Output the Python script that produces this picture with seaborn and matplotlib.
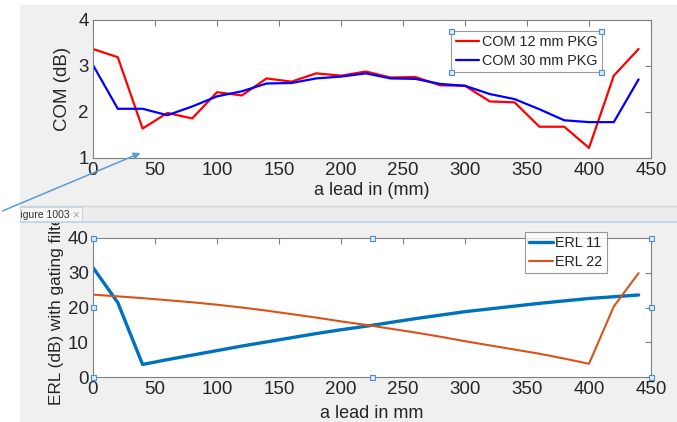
import numpy as np
import pandas as pd
import matplotlib
matplotlib.use("Agg")
import matplotlib.pyplot as plt
import seaborn as sns
from matplotlib.patches import Rectangle
from matplotlib.transforms import Bbox

# ================= DATA =================
lead_mm = [0, 20, 40, 60, 80, 100, 120, 140, 160, 180, 200, 220,
           240, 260, 280, 300, 320, 340, 360, 380, 400, 420, 440]

com_12 = [3.37, 3.19, 1.64, 1.98, 1.86, 2.43, 2.36, 2.73, 2.66, 2.84, 2.79, 2.88,
          2.75, 2.76, 2.58, 2.57, 2.23, 2.21, 1.68, 1.68, 1.22, 2.79, 3.37]
com_30 = [3.02, 2.07, 2.07, 1.93, 2.12, 2.34, 2.45, 2.62, 2.63, 2.73, 2.77, 2.84,
          2.73, 2.72, 2.61, 2.57, 2.39, 2.28, 2.06, 1.82, 1.78, 1.78, 2.71]

erl_11 = [31.5, 21.4, 3.6, 5.0, 6.3, 7.6, 8.9, 10.1, 11.3, 12.5, 13.6, 14.6,
          15.7, 16.8, 17.8, 18.8, 19.6, 20.4, 21.2, 21.9, 22.6, 23.1, 23.6]
erl_22 = [23.7, 23.2, 22.7, 22.1, 21.5, 20.8, 20.0, 19.1, 18.1, 17.1, 16.0, 15.0,
          13.9, 12.8, 11.6, 10.3, 9.1, 7.9, 6.7, 5.3, 3.8, 20.3, 29.9]

com_df = pd.DataFrame({"lead": lead_mm * 2,
                       "COM": com_12 + com_30,
                       "series": ["COM 12 mm PKG"] * len(lead_mm) + ["COM 30 mm PKG"] * len(lead_mm)})
erl_df = pd.DataFrame({"lead": lead_mm * 2,
                       "ERL": erl_11 + erl_22,
                       "series": ["ERL 11"] * len(lead_mm) + ["ERL 22"] * len(lead_mm)})

# ================= STYLE =================
sns.set_style("white")
plt.rcParams['font.family'] = ['Liberation Sans', 'DejaVu Sans']
BG = "#f0f0f0"
AX_COL = "#808080"
TXT = "#262626"

W, H = 677, 422
fig = plt.figure(figsize=(W / 100, H / 100), dpi=100, facecolor="white")

# window background
fig.patches.append(Rectangle((20 / W, 0), 1, (H - 5) / H, transform=fig.transFigure,
                             facecolor=BG, edgecolor="none", zorder=-10))


def px_axes(l, t, r, b):
    return fig.add_axes([l / W, (H - b) / H, (r - l) / W, (b - t) / H])


def style_axes(ax):
    ax.set_facecolor("white")
    for s in ax.spines.values():
        s.set_color(AX_COL)
        s.set_linewidth(0.8)
    ax.tick_params(direction="in", length=4, width=0.8, color=AX_COL,
                   top=True, right=True, labelsize=13.5, labelcolor=TXT, pad=3)
    ax.set_xlim(0, 450)
    ax.set_xticks(range(0, 451, 50))


def style_legend(leg, widths=None):
    leg.get_frame().set_linewidth(0.8)
    leg.get_frame().set_edgecolor(AX_COL)
    for t in leg.get_texts():
        t.set_color(TXT)
    if widths:
        for ln, w in zip(leg.get_lines(), widths):
            ln.set_linewidth(w)


LEG_KW = dict(loc="upper right", fontsize=10.4, frameon=True, fancybox=False,
              handlelength=1.6, handletextpad=0.2, borderpad=0.3,
              labelspacing=0.3, borderaxespad=0)

# ================= TOP: COM =================
ax1 = px_axes(93, 20, 651, 158)
sns.lineplot(data=com_df, x="lead", y="COM", hue="series",
             palette=["#ff0000", "#0000ff"], linewidth=1.6, ax=ax1)
style_axes(ax1)
ax1.set_ylim(1, 4)
ax1.set_yticks([1, 2, 3, 4])
ax1.set_xlabel("a lead in (mm)", fontsize=13, color=TXT, labelpad=2)
ax1.set_ylabel("COM (dB)", fontsize=13.5, color=TXT, labelpad=5)
leg1 = ax1.legend(bbox_to_anchor=(0.912, 0.92), **LEG_KW)
style_legend(leg1)

# ================= BOTTOM: ERL =================
ax2 = px_axes(93, 238, 651, 377)
sns.lineplot(data=erl_df, x="lead", y="ERL", hue="series",
             palette=["#0072bd", "#d95319"], ax=ax2)
ax2.lines[0].set_linewidth(2.4)
ax2.lines[1].set_linewidth(1.5)
style_axes(ax2)
ax2.set_ylim(0, 40)
ax2.set_yticks([0, 10, 20, 30, 40])
ax2.set_xlabel("a lead in mm", fontsize=13, color=TXT, labelpad=5)
ax2.set_ylabel("ERL (dB) with gating filter", fontsize=12.4, color=TXT, labelpad=3)
# label runs under the tab bar, clip it there like the window does
ax2.yaxis.label.set_clip_box(Bbox.from_extents(0, 0, W, H - 222))
ax2.yaxis.label.set_clip_on(True)
leg2 = ax2.legend(bbox_to_anchor=(0.921, 1.043), **LEG_KW)
style_legend(leg2, [2.4, 1.5])

# ================= WINDOW CHROME =================
# separator and tab bar
fig.add_artist(plt.Line2D([20 / W, 1], [(H - 206) / H] * 2, color="#d4d4d4", lw=1, zorder=6))
fig.patches.append(Rectangle((20 / W, (H - 222) / H), 1, 15 / H, transform=fig.transFigure,
                             facecolor="#ececec", edgecolor="none", zorder=5))
fig.patches.append(Rectangle((20 / W, (H - 222) / H), 62 / W, 15 / H, transform=fig.transFigure,
                             facecolor="#f7f7f7", edgecolor="#c9d6e3", lw=0.8, zorder=6))
fig.add_artist(plt.Line2D([20 / W, 1], [(H - 222) / H] * 2, color="#c4d4e6", lw=1.2, zorder=7))
tab_txt = fig.text(14 / W, (H - 215) / H, "Figure 1003", fontsize=7.5, color="#333333",
                   va="center", ha="left", zorder=8)
tab_txt.set_clip_box(Bbox.from_extents(20, 0, W, H))
tab_txt.set_clip_on(True)
fig.text(72 / W, (H - 215) / H, "\u00d7", fontsize=8.5, color="#a0a0a0", va="center", zorder=8)

# selection handles
def handle(x, y):
    fig.patches.append(Rectangle(((x - 2.5) / W, (H - y - 2.5) / H), 5 / W, 5 / H,
                                 transform=fig.transFigure, facecolor="#dbe9f7",
                                 edgecolor="#4a90d0", lw=0.8, zorder=9))


fig.canvas.draw()
bb = leg1.get_window_extent()
for x, y in [(bb.x0, bb.y0), (bb.x1, bb.y0), (bb.x0, bb.y1), (bb.x1, bb.y1)]:
    handle(x, H - y)
for x, y in [(93, 238), (372, 238), (651, 238), (93, 307), (651, 307),
             (93, 377), (372, 377), (651, 377)]:
    handle(x, y)

# annotation arrow
fig.add_artist(matplotlib.patches.FancyArrowPatch(
    (0, H - 212), (143, H - 152), transform=None, arrowstyle="-|>",
    mutation_scale=10, color="#5b9bd5", lw=1.1, zorder=9))

fig.savefig("out.png", dpi=100, facecolor=fig.get_facecolor())
